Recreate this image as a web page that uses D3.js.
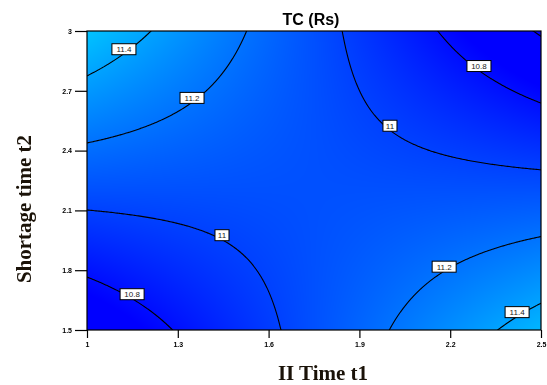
<!DOCTYPE html>
<html>
<head>
<meta charset="utf-8">
<script src="https://cdn.jsdelivr.net/npm/d3@7"></script>
<style>
  html, body { margin: 0; padding: 0; background: #fff; }
  #wrap { position: relative; width: 547px; height: 385px; }
  #wrap canvas, #wrap svg { position: absolute; left: 0; top: 0; }
</style>
</head>
<body>
<div id="wrap">
  <canvas id="fill" width="547" height="385"></canvas>
  <svg id="chart" width="547" height="385"></svg>
</div>
<script>
// Factor ranges (actual units)
const t1Range = [1, 2.5];
const t2Range = [1.5, 3];

// Tick values
const t1Ticks = [1, 1.3, 1.6, 1.9, 2.2, 2.5];
const t2Ticks = [1.5, 1.8, 2.1, 2.4, 2.7, 3];

// Response-surface model for TC in coded factors A (t1) and B (t2):
// terms: intercept, A, B, AB, A^2, B^2
const modelTerms = ["Intercept", "A", "B", "AB", "A^2", "B^2"];
const modelCoefs = [11.06, -0.028, -0.001, -0.447, 0.0, 0.0];

// Contour levels and which of them get labels
const contourLevels = [10.6, 10.8, 11.0, 11.2, 11.4];
const labelLevels = [11.4, 11.2, 11.0, 10.8, 11.0, 10.8, 11.2, 11.4];
const labelAtT1 = [1.122, 1.347, 2.001, 2.295, 1.446, 1.149, 2.180, 2.421];

function coded(v, r) { return (v - (r[0] + r[1]) / 2) / ((r[1] - r[0]) / 2); }
function tc(t1, t2) {
  const A = coded(t1, t1Range), B = coded(t2, t2Range);
  const c = modelCoefs;
  return c[0] + c[1] * A + c[2] * B + c[3] * A * B + c[4] * A * A + c[5] * B * B;
}

const margin = { left: 87, top: 31, right: 6, bottom: 55 };
const W = 547, H = 385;
const x = d3.scaleLinear().domain(t1Range).range([margin.left, W - margin.right]);
const y = d3.scaleLinear().domain(t2Range).range([H - margin.bottom, margin.top]);

// Colour ramp: blue at low cost rising toward cyan
const color = d3.scaleLinear()
  .domain([10.75, 11.06, 11.6])
  .range(["#0000ff", "#0050ff", "#00d4ff"])
  .clamp(true);

// Filled surface on the canvas
const ctx = document.getElementById("fill").getContext("2d");
const px0 = Math.round(x.range()[0]), px1 = Math.round(x.range()[1]);
const py0 = Math.round(y.range()[1]), py1 = Math.round(y.range()[0]);
const img = ctx.createImageData(px1 - px0, py1 - py0);
for (let j = 0; j < py1 - py0; j++) {
  for (let i = 0; i < px1 - px0; i++) {
    const v = tc(x.invert(px0 + i + 0.5), y.invert(py0 + j + 0.5));
    const c = d3.rgb(color(v));
    const k = 4 * (j * (px1 - px0) + i);
    img.data[k] = c.r; img.data[k + 1] = c.g; img.data[k + 2] = c.b; img.data[k + 3] = 255;
  }
}
ctx.putImageData(img, px0, py0);

const svg = d3.select("#chart");

svg.append("clipPath").attr("id", "plotClip")
  .append("rect")
  .attr("x", x.range()[0]).attr("y", y.range()[1])
  .attr("width", x.range()[1] - x.range()[0])
  .attr("height", y.range()[0] - y.range()[1]);

// Contour lines from a sampled grid
const nx = 301, ny = 301;
const sx = (t1Range[1] - t1Range[0]) / (nx - 1);
const sy = (t2Range[1] - t2Range[0]) / (ny - 1);
const grid = new Array(nx * ny);
for (let j = 0; j < ny; j++)
  for (let i = 0; i < nx; i++)
    grid[j * nx + i] = tc(t1Range[0] + i * sx, t2Range[0] + j * sy);

const contours = d3.contours().size([nx, ny]).thresholds(contourLevels)(grid);
const toPx = d3.geoTransform({
  point: function (cx, cy) {
    this.stream.point(x(t1Range[0] + (cx - 0.5) * sx), y(t2Range[0] + (cy - 0.5) * sy));
  }
});
svg.append("g").attr("clip-path", "url(#plotClip)")
  .selectAll("path").data(contours).join("path")
  .attr("d", d3.geoPath(toPx))
  .attr("fill", "none")
  .attr("stroke", "#000")
  .attr("stroke-width", 1.1);

// Plot frame
svg.append("rect")
  .attr("x", x.range()[0]).attr("y", y.range()[1])
  .attr("width", x.range()[1] - x.range()[0])
  .attr("height", y.range()[0] - y.range()[1])
  .attr("fill", "none").attr("stroke", "#000").attr("stroke-width", 1.2);

// Contour labels: find t2 on the level line at each chosen t1
function solveT2(level, t1) {
  let lo = t2Range[0], hi = t2Range[1];
  let flo = tc(t1, lo) - level;
  for (let k = 0; k < 60; k++) {
    const mid = (lo + hi) / 2, fm = tc(t1, mid) - level;
    if ((fm < 0) === (flo < 0)) { lo = mid; flo = fm; } else { hi = mid; }
  }
  return (lo + hi) / 2;
}
const labels = svg.append("g");
labelLevels.forEach((lv, i) => {
  const t1 = labelAtT1[i], t2 = solveT2(lv, t1);
  const txt = d3.format(".1f")(lv).replace(/\.0$/, "");
  // box sits just above the line it names
  const g = labels.append("g").attr("transform", `translate(${x(t1)},${y(t2) - 4.5})`);
  const w = txt.length * 5 + 4;
  g.append("rect").attr("x", -w / 2).attr("y", -5.5).attr("width", w).attr("height", 11)
    .attr("fill", "#fff").attr("stroke", "#000").attr("stroke-width", 1);
  g.append("text").attr("text-anchor", "middle").attr("y", 3)
    .attr("font-family", "Arial, Liberation Sans, sans-serif")
    .attr("font-size", 8).attr("fill", "#222").text(txt);
});

// Axes
const xAxis = d3.axisBottom(x).tickValues(t1Ticks).tickSize(8).tickPadding(4)
  .tickFormat(d3.format("~g"));
const yAxis = d3.axisLeft(y).tickValues(t2Ticks).tickSize(12).tickPadding(3)
  .tickFormat(d3.format("~g"));
const gx = svg.append("g").attr("transform", `translate(0,${y.range()[0]})`).call(xAxis);
const gy = svg.append("g").attr("transform", `translate(${x.range()[0]},0)`).call(yAxis);
[gx, gy].forEach(g => {
  g.select(".domain").remove();
  g.selectAll(".tick line").attr("stroke", "#000").attr("stroke-width", 1.2);
  g.selectAll(".tick text").attr("font-family", "Arial, Liberation Sans, sans-serif")
    .attr("font-size", 7).attr("font-weight", "bold").attr("fill", "#000");
});

// Titles
svg.append("text").attr("x", 311).attr("y", 25).attr("text-anchor", "middle")
  .attr("font-family", "Arial, Liberation Sans, sans-serif")
  .attr("font-size", 16).attr("font-weight", "bold").attr("fill", "#000")
  .text("TC (Rs)");
svg.append("text").attr("x", 323).attr("y", 380).attr("text-anchor", "middle")
  .attr("font-family", "Liberation Serif, Times New Roman, serif")
  .attr("font-size", 21).attr("font-weight", "bold").attr("fill", "#1a1208")
  .text("II Time t1");
svg.append("text").attr("transform", "translate(31,209) rotate(-90)")
  .attr("text-anchor", "middle")
  .attr("font-family", "Liberation Serif, Times New Roman, serif")
  .attr("font-size", 21).attr("font-weight", "bold").attr("fill", "#1a1208")
  .text("Shortage time t2");
</script>
</body>
</html>
